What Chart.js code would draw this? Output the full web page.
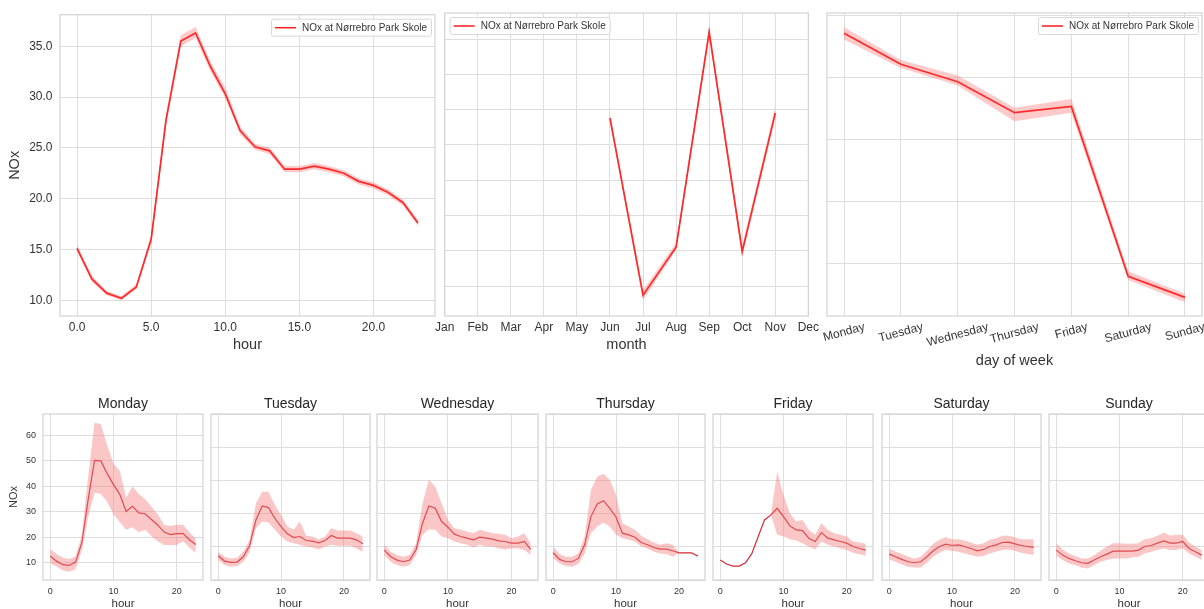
<!DOCTYPE html>
<html>
<head>
<meta charset="utf-8">
<script src="https://cdn.jsdelivr.net/npm/chart.js@4.4.1/dist/chart.umd.min.js"></script>
<style>
  html, body { margin: 0; padding: 0; background: #fff; overflow: hidden; }
  body { width: 1204px; height: 609px; position: relative; }
  canvas { position: absolute; }
</style>
</head>
<body>
<script>
// ---- data ----
const hours = [0,1,2,3,4,5,6,7,8,9,10,11,12,13,14,15,16,17,18,19,20,21,22,23];
const monthNames = ["Jan","Feb","Mar","Apr","May","Jun","Jul","Aug","Sep","Oct","Nov","Dec"];
const weekdays = ["Monday","Tuesday","Wednesday","Thursday","Friday","Saturday","Sunday"];
const seriesLabel = "NOx at N\u00f8rrebro Park Skole";

// hourly profile (top left)
const hourMean = [15.1,12.1,10.7,10.2,11.3,16.0,27.7,35.5,36.3,33.0,30.3,26.7,25.1,24.7,22.9,22.9,23.2,22.9,22.5,21.7,21.3,20.6,19.6,17.6];
const hourLow  = [14.8,11.8,10.5,10.0,11.1,15.6,27.2,35.0,35.8,32.5,29.9,26.3,24.8,24.4,22.6,22.6,22.9,22.6,22.2,21.4,21.0,20.3,19.3,17.3];
const hourHigh = [15.4,12.4,10.9,10.4,11.6,16.4,28.2,36.1,36.9,33.5,30.9,27.1,25.4,25.0,23.2,23.2,23.5,23.2,22.8,22.0,21.6,20.9,19.9,17.9];

// monthly profile (top middle), months 6..11
const monthNums = [6,7,8,9,10,11];
const monthMean = [33.8,8.7,15.5,46.0,14.9,34.5];
const monthLow  = [33.3,8.0,15.1,45.3,14.2,33.8];
const monthHigh = [34.4,9.4,16.1,46.7,15.6,35.4];
const monthTicks = [10,15,20,25,30,35,40,45];

// day of week profile (top right)
const dowIndex = [0,1,2,3,4,5,6];
const dowMean = [33.6,31.1,29.7,27.2,27.7,14.0,12.3];
const dowLow  = [33.1,30.8,29.4,26.5,27.2,13.7,11.9];
const dowHigh = [34.1,31.45,30.2,27.6,28.3,14.4,12.6];

// hourly profile per weekday (bottom row)
const mondayMean = [12.6,10.7,9.3,9.0,10.3,18.0,35.0,50.2,50.0,45.0,40.7,36.8,30.2,32.2,29.6,29.3,27.0,24.8,22.1,21.1,21.5,21.5,19.1,17.2];
const mondayLow  = [10.0,8.5,7.0,6.5,7.5,15.0,28.0,37.5,37.0,34.0,29.0,26.0,23.0,24.0,22.0,23.0,20.5,18.5,17.0,17.0,17.0,18.5,16.0,14.0];
const mondayHigh = [15.5,13.5,12.0,11.5,12.5,21.0,44.0,65.0,64.5,56.0,49.0,46.0,35.7,40.0,37.0,35.0,32.0,29.0,25.0,24.5,25.0,25.0,22.0,19.5];

const tuesdayMean = [7.3,5.7,5.3,5.4,7.0,10.4,18.1,22.3,21.8,18.6,16.1,13.9,12.8,13.1,11.9,11.7,11.2,11.9,13.4,12.6,12.6,12.6,12.1,10.9];
const tuesdayLow  = [6.0,4.5,4.0,4.2,5.5,8.5,15.6,17.6,17.3,15.1,13.1,11.6,11.1,10.6,10.1,9.8,9.2,10.1,10.6,10.3,10.3,10.3,9.5,8.5];
const tuesdayHigh = [8.5,7.0,6.5,6.7,8.5,12.1,23.1,26.6,26.6,22.6,19.6,16.1,15.1,17.6,13.3,13.1,12.3,13.1,15.6,14.9,14.9,14.9,14.1,13.1];

const wednesdayMean = [9.0,7.0,6.0,5.5,6.0,9.2,17.1,22.3,21.6,17.6,15.9,13.8,13.1,12.6,12.1,12.9,12.6,12.3,11.8,11.6,11.1,11.1,11.6,9.2];
const wednesdayLow  = [7.5,5.5,4.5,4.0,4.5,7.5,13.6,15.3,15.1,13.1,12.6,11.6,11.1,10.6,9.8,10.6,10.1,10.1,9.5,9.2,9.5,9.5,9.0,7.5];
const wednesdayHigh = [10.8,8.5,7.5,7.0,7.5,11.1,23.1,30.2,28.1,23.1,18.1,15.6,15.1,14.6,14.1,15.1,14.6,14.1,13.9,13.6,12.6,13.1,14.1,11.1];

const thursdayMean = [8.2,6.2,5.5,5.5,6.5,10.6,19.1,22.9,23.9,21.6,18.9,14.1,13.6,12.9,11.3,10.6,9.8,9.3,9.3,8.8,8.2,8.2,8.2,7.2];
const thursdayLow  = [6.5,5.0,4.2,4.0,4.8,8.0,14.1,16.1,17.3,16.1,13.6,12.6,12.1,11.6,10.1,9.5,8.5,8.0,7.8,7.0,8.2,8.2,8.2,7.2];
const thursdayHigh = [10.1,7.8,7.0,7.0,8.0,13.1,27.1,31.2,32.0,30.2,25.6,17.1,16.1,15.1,13.3,12.3,11.3,10.6,11.1,10.6,8.2,8.2,8.2,7.2];

const fridayMean = [6.0,4.8,4.2,4.2,5.2,8.0,13.1,18.1,19.6,21.6,19.1,16.3,15.1,14.9,12.6,11.6,14.3,12.6,12.1,11.6,11.1,10.1,9.5,9.0];
const fridayLow  = [6.0,4.8,4.2,4.2,5.2,8.0,13.1,18.1,19.6,13.6,13.1,12.3,11.9,11.1,10.1,9.2,11.6,10.6,10.1,9.5,9.0,8.2,7.8,7.2];
const fridayHigh = [6.0,4.8,4.2,4.2,5.2,8.0,13.1,18.1,19.6,32.7,25.6,20.1,17.6,18.1,15.1,13.6,17.1,15.1,14.1,13.6,13.1,11.6,11.3,10.9];

const saturdayMean = [7.8,7.0,6.2,5.5,5.2,5.5,7.0,8.8,10.1,10.8,10.4,10.6,10.1,9.5,8.8,9.2,10.1,10.6,11.3,11.4,10.9,10.4,10.1,9.8];
const saturdayLow  = [6.2,5.5,4.7,4.0,3.8,3.8,5.2,7.0,8.2,9.0,8.8,8.5,8.0,7.5,7.0,7.2,8.0,8.5,9.0,9.2,8.8,8.2,7.8,7.5];
const saturdayHigh = [9.5,8.5,7.8,7.0,6.5,7.0,8.8,10.9,12.1,12.9,12.3,12.3,11.9,11.3,10.6,11.1,12.1,12.6,13.3,13.3,12.9,12.3,12.3,12.3];

const sundayMean = [9.0,7.5,6.5,5.8,5.2,5.0,6.0,7.0,7.8,8.7,8.7,8.7,8.7,9.0,10.1,10.4,11.1,11.8,11.1,11.1,11.6,9.5,8.5,7.5];
const sundayLow  = [7.2,6.0,5.0,4.5,3.8,3.5,4.5,5.5,6.0,6.5,6.5,6.5,6.8,7.0,8.0,8.5,9.0,9.5,9.0,9.0,9.5,8.0,7.0,6.0];
const sundayHigh = [11.1,9.2,8.0,7.2,6.5,6.5,7.5,8.8,10.1,11.1,11.1,10.9,10.9,11.1,12.3,12.6,13.3,14.3,13.3,13.6,13.6,11.3,10.1,9.0];

const weekdayMeans = [mondayMean, tuesdayMean, wednesdayMean, thursdayMean, fridayMean, saturdayMean, sundayMean];
const weekdayLows  = [mondayLow, tuesdayLow, wednesdayLow, thursdayLow, fridayLow, saturdayLow, sundayLow];
const weekdayHighs = [mondayHigh, tuesdayHigh, wednesdayHigh, thursdayHigh, fridayHigh, saturdayHigh, sundayHigh];

// ---- styling ----
const FONT = "'Liberation Sans', Arial, Helvetica, sans-serif";
const GRID = "#dedede";
const SPINE = "#d2d2d2";
const TEXT = "#333333";
Chart.defaults.font.family = FONT;
Chart.defaults.color = TEXT;
Chart.defaults.animation = false;

const xy = (xs, ys) => xs.map((x, i) => ({x: x, y: ys[i]}));

// draws the frame around the plot area (seaborn whitegrid spines)
const framePlugin = {
  id: "frame",
  afterDraw(chart) {
    const a = chart.chartArea, ctx = chart.ctx;
    ctx.save();
    ctx.strokeStyle = SPINE;
    ctx.lineWidth = 1.2;
    ctx.strokeRect(a.left, a.top, a.right - a.left, a.bottom - a.top);
    ctx.restore();
  }
};

// matplotlib-style legend box inside the axes
const legendPlugin = {
  id: "boxLegend",
  afterDraw(chart, args, opts) {
    if (!opts.side) return;
    const a = chart.chartArea, ctx = chart.ctx;
    ctx.save();
    ctx.font = "10px " + FONT;
    const tw = ctx.measureText(seriesLabel).width;
    const w = tw + 35, h = 17;
    const x = opts.side === "right" ? a.right - 4 - w : a.left + 5;
    const y = a.top + 4;
    ctx.fillStyle = "rgba(255,255,255,0.8)";
    ctx.strokeStyle = "#d8d8d8";
    ctx.lineWidth = 1;
    ctx.beginPath();
    ctx.roundRect(x + 0.5, y + 0.5, w, h, 2);
    ctx.fill();
    ctx.stroke();
    ctx.strokeStyle = "#ff1a1a";
    ctx.lineWidth = 1.5;
    ctx.beginPath();
    ctx.moveTo(x + 4, y + h / 2 + 0.5);
    ctx.lineTo(x + 25, y + h / 2 + 0.5);
    ctx.stroke();
    ctx.fillStyle = TEXT;
    ctx.textBaseline = "middle";
    ctx.fillText(seriesLabel, x + 31, y + h / 2 + 1);
    ctx.restore();
  }
};

// rotated (15 deg) day names, centred under each tick like matplotlib
const rotatedTicksPlugin = {
  id: "rotTicks",
  afterDraw(chart, args, opts) {
    if (!opts.labels) return;
    const sx = chart.scales.x, ctx = chart.ctx;
    const ang = 15 * Math.PI / 180;
    ctx.save();
    ctx.font = "12px " + FONT;
    ctx.fillStyle = TEXT;
    ctx.textAlign = "center";
    ctx.textBaseline = "middle";
    opts.labels.forEach((lab, i) => {
      const w = ctx.measureText(lab).width;
      const hgt = 12 * Math.cos(ang) + w * Math.sin(ang);
      const cx = sx.getPixelForValue(i);
      const cy = chart.chartArea.bottom + opts.gap + hgt / 2;
      ctx.save();
      ctx.translate(cx, cy);
      ctx.rotate(-ang);
      ctx.fillText(lab, 0, 0);
      ctx.restore();
    });
    ctx.restore();
  }
};

function bandSets(points, low, high, lineColor, bandColor, width) {
  return [
    {data: low, borderWidth: 0, pointRadius: 0, fill: false},
    {data: high, borderWidth: 0, pointRadius: 0, fill: "-1", backgroundColor: bandColor},
    {data: points, borderColor: lineColor, borderWidth: width, pointRadius: 0, fill: false, tension: 0}
  ];
}

// place a canvas so that the chart area lands on box {l,t,r,b}
function panel(box, sizes, config) {
  const c = document.createElement("canvas");
  const w = box.r - box.l + sizes.yw + sizes.pr;
  const h = box.b - box.t + sizes.th + sizes.xh;
  c.width = w; c.height = h;
  c.style.left = (box.l - sizes.yw) + "px";
  c.style.top = (box.t - sizes.th) + "px";
  c.style.width = w + "px"; c.style.height = h + "px";
  document.body.appendChild(c);
  config.options.responsive = false;
  config.options.maintainAspectRatio = false;
  config.options.layout = {padding: {left: 0, right: sizes.pr, top: sizes.titled ? 0 : sizes.th, bottom: 0}};
  config.options.scales.x.afterFit = s => { s.height = sizes.xh; };
  config.options.scales.y.afterFit = s => { s.width = sizes.yw; };
  config.plugins = [framePlugin, legendPlugin, rotatedTicksPlugin];
  return new Chart(c, config);
}

const gridOpt = {color: GRID, lineWidth: 1, drawTicks: false};
const noBorder = {display: false};

// ---- top left: by hour ----
panel({l: 60, t: 13, r: 435, b: 316}, {yw: 60, th: 13, xh: 42, pr: 4}, {
  type: "line",
  data: {datasets: bandSets(xy(hours, hourMean), xy(hours, hourLow), xy(hours, hourHigh), "#ff1a1a", "rgba(255,80,80,0.3)", 1.7)},
  options: {
    plugins: {legend: {display: false}, tooltip: {enabled: false}, boxLegend: {side: "right"}},
    scales: {
      x: {type: "linear", min: -1.15, max: 24.15, grid: gridOpt, border: noBorder,
          ticks: {stepSize: 5, includeBounds: false, padding: 4, font: {size: 12}, callback: v => v.toFixed(1)},
          title: {display: true, text: "hour", font: {size: 14.5}, padding: {top: 0, bottom: 4}}},
      y: {type: "linear", min: 8.45, max: 38.1, grid: gridOpt, border: noBorder,
          ticks: {stepSize: 5, includeBounds: false, padding: 7.5, font: {size: 12}, callback: v => v.toFixed(1)},
          title: {display: true, text: "NOx", font: {size: 14.5}, padding: {top: 6.3, bottom: 0}}}
    }
  }
});

// ---- top middle: by month ----
panel({l: 443, t: 13, r: 819, b: 316}, {yw: 12, th: 13, xh: 42, pr: 4}, {
  type: "line",
  data: {datasets: bandSets(xy(monthNums, monthMean), xy(monthNums, monthLow), xy(monthNums, monthHigh), "#ff1a1a", "rgba(255,80,80,0.3)", 1.7)},
  options: {
    plugins: {legend: {display: false}, tooltip: {enabled: false}, boxLegend: {side: "left"}},
    scales: {
      x: {type: "linear", min: 1, max: 12, grid: gridOpt, border: noBorder,
          ticks: {stepSize: 1, includeBounds: false, padding: 4, font: {size: 12}, maxRotation: 0, autoSkip: false,
                  callback: v => monthNames[v - 1]},
          title: {display: true, text: "month", font: {size: 14.5}, padding: {top: 0, bottom: 4}}},
      y: {type: "linear", min: 5.75, max: 48.7, grid: gridOpt, border: noBorder,
          afterBuildTicks: s => { s.ticks = monthTicks.map(v => ({value: v})); },
          ticks: {display: false}}
    }
  }
});

// ---- top right: by day of week ----
panel({l: 827, t: 13, r: 1202, b: 316}, {yw: 8, th: 13, xh: 58, pr: 30}, {
  type: "line",
  data: {datasets: bandSets(xy(dowIndex, dowMean), xy(dowIndex, dowLow), xy(dowIndex, dowHigh), "#ff1a1a", "rgba(255,80,80,0.3)", 1.7)},
  options: {
    plugins: {legend: {display: false}, tooltip: {enabled: false}, boxLegend: {side: "right"},
              rotTicks: {labels: weekdays, gap: 5}},
    scales: {
      x: {type: "linear", min: -0.3, max: 6.3, grid: gridOpt, border: noBorder,
          ticks: {stepSize: 1, includeBounds: false, display: false},
          title: {display: true, text: "day of week", font: {size: 14.5}, padding: {top: 0, bottom: 4}}},
      y: {type: "linear", min: 10.8, max: 35.24, grid: gridOpt, border: noBorder,
          ticks: {stepSize: 5, includeBounds: false, display: false}}
    }
  }
});

// ---- bottom row: one panel per weekday ----
const bottomLeft = [43, 211, 377, 546, 713, 882, 1049];
const bottomRight = [203, 370, 538, 705, 873, 1041, 1209];

weekdays.forEach((day, i) => {
  const first = i === 0;
  panel({l: bottomLeft[i], t: 414, r: bottomRight[i], b: 580},
        {yw: first ? 43 : 6, th: 26, xh: 38, pr: 3, titled: true}, {
    type: "line",
    data: {datasets: bandSets(xy(hours, weekdayMeans[i]), xy(hours, weekdayLows[i]), xy(hours, weekdayHighs[i]),
                              "#d42a35", "rgba(245,120,120,0.42)", 1.2)},
    options: {
      plugins: {
        legend: {display: false}, tooltip: {enabled: false},
        title: {display: true, text: day, fullSize: false, color: "#262626",
                font: {size: 14, weight: "normal"}, padding: {top: 7.6, bottom: 1.6}}
      },
      scales: {
        x: {type: "linear", min: -1.15, max: 24.15, grid: gridOpt, border: noBorder,
            ticks: {stepSize: 10, includeBounds: false, padding: 6.6, font: {size: 9}, maxRotation: 0},
            title: {display: true, text: "hour", font: {size: 11.5}, padding: {top: 0, bottom: 7}}},
        y: first
          ? {type: "linear", min: 3.3, max: 68.4, grid: gridOpt, border: noBorder,
             ticks: {stepSize: 10, includeBounds: false, padding: 7, font: {size: 9}},
             title: {display: true, text: "NOx", font: {size: 11}, padding: {top: 7.4, bottom: 0}}}
          : {type: "linear", min: 0, max: 50, grid: gridOpt, border: noBorder,
             ticks: {stepSize: 10, display: false}}
      }
    }
  });
});
</script>
</body>
</html>
